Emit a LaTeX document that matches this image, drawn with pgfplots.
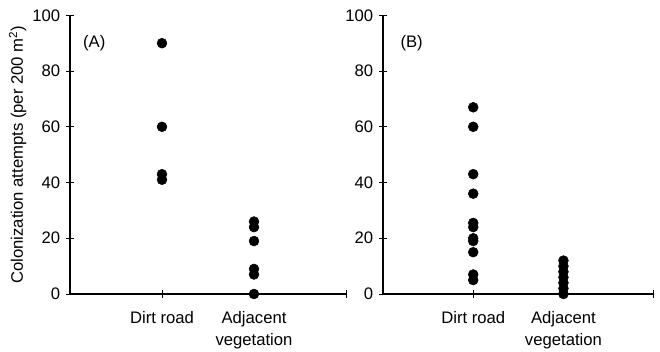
\documentclass[border=0pt]{standalone}
\usepackage{pgfplots}
\pgfplotsset{compat=1.18}
\usepackage{fontspec}
\setmainfont{Liberation Sans}
\begin{document}
\fontsize{12.5}{16}\selectfont
\begin{tikzpicture}[x=1pt,y=1pt]
\path[use as bounding box] (-52.5,-43.5) rectangle (442.5,220.5);
\pgfplotsset{
  panel/.style={
    scale only axis,
    width=207pt, height=209pt,
    xmin=0, xmax=3, ymin=0, ymax=100,
    axis lines=left,
    axis line style={-, line width=0.8pt},
    tick align=center,
    major tick length=6pt,
    tick style={black, line width=0.6pt},
    xtick={1,2,3},
    xticklabels={Dirt road, Adjacent\\vegetation, {}},
    xticklabel style={align=center, anchor=north, yshift=-6pt, font=\fontsize{12.5}{16.5}\selectfont},
    ytick={0,20,40,60,80,100},
    yticklabel style={font=\fontsize{12.5}{16}\selectfont},
    /pgf/number format/assume math mode=true,
    clip=false,
  },
  dots/.style={only marks, mark=*, mark size=3.7pt, black, mark options={fill=black}},
}
\begin{axis}[panel, at={(0,0)}, anchor=origin,
  ylabel={Colonization attempts (per 200 m\textsuperscript{2})},
  ylabel style={font=\fontsize{12.5}{16}\selectfont, yshift=-4pt}]
\addplot[dots] coordinates {(1,90) (1,60) (1,43) (1,41)};
\addplot[dots] coordinates {(2,26) (2,24) (2,19) (2,9) (2,7) (2,0)};
\node[anchor=west] at (axis cs:0.08,90) {(A)};
\end{axis}
\begin{axis}[panel, at={(234.75pt,0)}, anchor=origin, width=203pt]
\addplot[dots] coordinates {(1,67) (1,60) (1,43) (1,36) (1,25.5) (1,24) (1,20) (1,19) (1,15) (1,7) (1,5)};
\addplot[dots] coordinates {(2,12) (2,10) (2,8) (2,6) (2,4) (2,2) (2,0)};
\node[anchor=west] at (axis cs:0.13,90) {(B)};
\end{axis}
\end{tikzpicture}
\end{document}
